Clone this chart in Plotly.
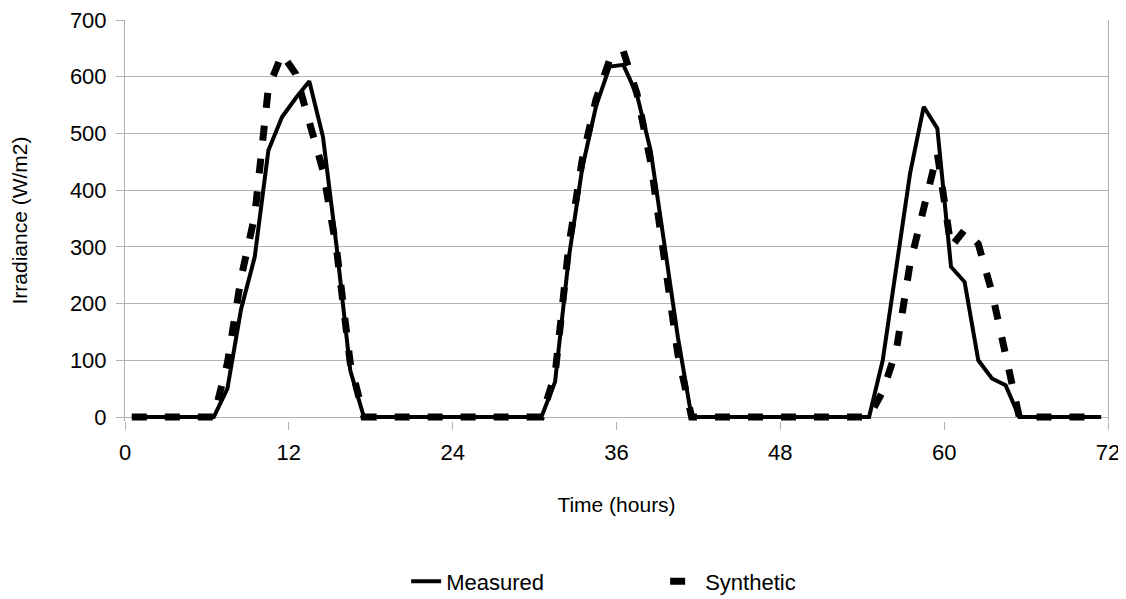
import plotly.graph_objects as go

# Hour mid-points (hours)
hours = [0.5, 1.5, 2.5, 3.5, 4.5, 5.5, 6.5, 7.5, 8.5, 9.5, 10.5, 11.5,
         12.5, 13.5, 14.5, 15.5, 16.5, 17.5, 18.5, 19.5, 20.5, 21.5, 22.5, 23.5,
         24.5, 25.5, 26.5, 27.5, 28.5, 29.5, 30.5, 31.5, 32.5, 33.5, 34.5, 35.5,
         36.5, 37.5, 38.5, 39.5, 40.5, 41.5, 42.5, 43.5, 44.5, 45.5, 46.5, 47.5,
         48.5, 49.5, 50.5, 51.5, 52.5, 53.5, 54.5, 55.5, 56.5, 57.5, 58.5, 59.5,
         60.5, 61.5, 62.5, 63.5, 64.5, 65.5, 66.5, 67.5, 68.5, 69.5, 70.5, 71.5]

measured = [0, 0, 0, 0, 0, 0, 0, 50, 190, 282, 470, 529,
            562, 592, 494, 300, 82, 0, 0, 0, 0, 0, 0, 0,
            0, 0, 0, 0, 0, 0, 0, 62, 280, 440, 548, 618,
            621, 568, 470, 306, 140, 0, 0, 0, 0, 0, 0, 0,
            0, 0, 0, 0, 0, 0, 0, 100, 270, 429, 547, 509,
            265, 238, 100, 68, 56, 0, 0, 0, 0, 0, 0, 0]

synthetic = [0, 0, 0, 0, 0, 0, 0, 95, 245, 355, 580, 640,
             605, 520, 435, 295, 95, 0, 0, 0, 0, 0, 0, 0,
             0, 0, 0, 0, 0, 0, 0, 75, 300, 455, 560, 630,
             645, 570, 450, 280, 110, 0, 0, 0, 0, 0, 0, 0,
             0, 0, 0, 0, 0, 0, 0, 45, 118, 270, 370, 465,
             300, 330, 305, 220, 110, 0, 0, 0, 0, 0, 0, 0]

x_ticks = [0, 12, 24, 36, 48, 60, 72]
y_ticks = [0, 100, 200, 300, 400, 500, 600, 700]

GRID = "#b3b3b3"
FONT = "Liberation Sans, Arial, sans-serif"

fig = go.Figure()
fig.add_trace(go.Scatter(
    x=hours, y=measured, name="Measured", mode="lines",
    line=dict(color="black", width=4),
))
fig.add_trace(go.Scatter(
    x=hours, y=synthetic, name="Synthetic", mode="lines",
    line=dict(color="black", width=7, dash="15px,18px"),
))

# The page body has an 8px margin, so the figure is 8px smaller than the window
fig.update_layout(
    template="none",
    width=1118, height=591,
    margin=dict(l=117, r=18, t=12, b=178, autoexpand=False),
    paper_bgcolor="white", plot_bgcolor="white",
    font=dict(family=FONT, size=22, color="black"),
    showlegend=True,
    legend=dict(orientation="h", x=0.286, xanchor="left", y=-0.40,
                yanchor="middle", font=dict(size=22), entrywidth=214,
                bgcolor="rgba(0,0,0,0)", traceorder="normal"),
)
fig.update_xaxes(
    range=[0, 72], tickvals=x_ticks, ticktext=[str(v) for v in x_ticks],
    showgrid=False, zeroline=False, showline=False, automargin=False,
    ticks="outside", ticklen=8, tickcolor=GRID, tickwidth=1,
    tickfont=dict(size=22), ticklabelstandoff=4, ticklabeloverflow="allow",
    title=dict(text="Time (hours)", font=dict(size=21), standoff=32),
)
fig.update_yaxes(
    range=[-7, 700], tickvals=y_ticks, ticktext=[str(v) for v in y_ticks],
    showgrid=True, gridcolor=GRID, gridwidth=1,
    zeroline=True, zerolinecolor=GRID, zerolinewidth=1,
    showline=True, linecolor=GRID, linewidth=1, mirror=True,
    automargin=False,
    ticks="outside", ticklen=8, tickcolor=GRID, tickwidth=1,
    tickfont=dict(size=22), ticklabelstandoff=5, ticklabeloverflow="allow",
    title=dict(text="Irradiance (W/m2)", font=dict(size=21), standoff=36),
)

fig.write_html("out.html")
